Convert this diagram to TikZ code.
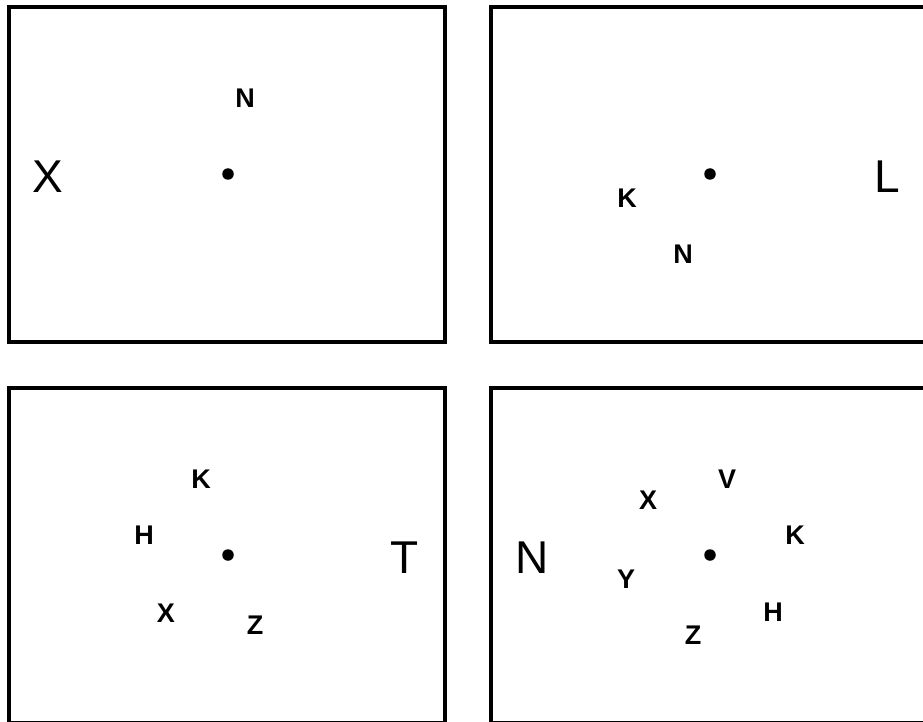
\documentclass[tikz,border=0pt]{standalone}
\usepackage{fontspec}
\setmainfont{Liberation Sans}
\newfontfamily\lblfont{Liberation Sans Bold}
\begin{document}
\begin{tikzpicture}[x=1pt,y=-1pt,
  panel/.style={draw=black,line width=4pt,line join=miter},
  lbl/.style={inner sep=0pt,font=\lblfont\fontsize{27}{31}\selectfont},
  big/.style={inner sep=0pt,font=\fontsize{46}{52}\selectfont},
  ctr/.style={circle,fill=black,inner sep=0pt,minimum size=11.5pt}]
\useasboundingbox (0,0) rectangle (923,722);
\clip (0,0) rectangle (923,722);
% panels
\draw[panel] (9,7) rectangle (445,342);
\draw[panel] (491,7) rectangle (927,342);
\draw[panel] (9,388) rectangle (445,723);
\draw[panel] (491,388) rectangle (927,723);
% panel 1
\node[ctr] (d1) at (228,174) {};
\node[lbl] (n1) at (245,98) {N};
\node[big] (x1) at (48,177) {X};
% panel 2
\node[ctr] (d2) at (710,174) {};
\node[lbl] (k2) at (627,198) {K};
\node[lbl] (n2) at (683,254) {N};
\node[big] (l2) at (887,177) {L};
% panel 3
\node[ctr] (d3) at (228,555) {};
\node[lbl] (k3) at (201,479) {K};
\node[lbl] (h3) at (144,535) {H};
\node[lbl] (x3) at (166,613) {X};
\node[lbl] (z3) at (255,625) {Z};
\node[big] (t3) at (405,558) {T};
% panel 4
\node[ctr] (d4) at (710,555) {};
\node[lbl] (x4) at (648,500) {X};
\node[lbl] (v4) at (727,479) {V};
\node[lbl] (k4) at (795,535) {K};
\node[lbl] (y4) at (626,579) {Y};
\node[lbl] (z4) at (693,635) {Z};
\node[lbl] (h4) at (773,612) {H};
\node[big] (n4) at (532,558) {N};
\end{tikzpicture}
\end{document}
